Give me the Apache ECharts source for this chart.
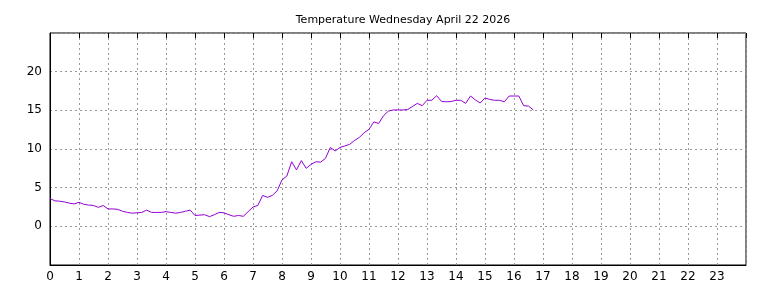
<!DOCTYPE html>
<html>
<head>
<meta charset="utf-8">
<script src="https://cdn.jsdelivr.net/npm/echarts@6/dist/echarts.min.js"></script>
<style>
  html, body { margin: 0; padding: 0; background: #fff; }
  #chart { width: 768px; height: 288px; }
</style>
</head>
<body>
<div id="chart"></div>
<script>
// temperature readings, one every 10 minutes from midnight
const stepMinutes = 10;
const temps = [
    3.6, 3.3, 3.25, 3.15, 3.0, 2.9, 3.1, 2.85, 2.75, 2.7, 2.45, 2.7,
    2.25, 2.25, 2.2, 1.95, 1.8, 1.7, 1.75, 1.8, 2.1, 1.8, 1.8, 1.8,
    1.9, 1.8, 1.7, 1.8, 1.95, 2.1, 1.4, 1.45, 1.5, 1.25, 1.5, 1.8,
    1.75, 1.5, 1.3, 1.4, 1.3, 1.9, 2.5, 2.7, 4.0, 3.75, 4.0, 4.6,
    6.0, 6.5, 8.35, 7.3, 8.5, 7.5, 8.0, 8.35, 8.3, 8.8, 10.2, 9.75,
    10.2, 10.4, 10.6, 11.1, 11.5, 12.1, 12.55, 13.5, 13.3, 14.3, 14.9, 15.05,
    15.05, 15.05, 15.1, 15.5, 15.9, 15.6, 16.3, 16.3, 16.9, 16.15, 16.1, 16.15,
    16.3, 16.3, 15.9, 16.85, 16.35, 15.95, 16.6, 16.4, 16.3, 16.3, 16.1, 16.85,
    16.85, 16.85, 15.6, 15.55, 15.05
];
const hourTicks = [0, 1, 2, 3, 4, 5, 6, 7, 8, 9, 10, 11, 12, 13, 14, 15, 16, 17, 18, 19, 20, 21, 22, 23];
const tempTicks = [0, 5, 10, 15, 20];
const title = "Temperature Wednesday April 22 2026";

const points = temps.map((t, i) => [i * stepMinutes / 60, t]);

const font = "DejaVu Sans";
const gridLine = { show: true, lineStyle: { color: "#999", type: [2, 3], width: 1 } };

const chart = echarts.init(document.getElementById("chart"));
chart.setOption({
    animation: false,
    backgroundColor: "#fff",
    title: {
        text: title,
        left: 398,
        textAlign: "center",
        top: 10,
        textStyle: { fontFamily: font, fontSize: 11, fontWeight: "normal", color: "#000" }
    },
    grid: {
        left: 50, right: 22, top: 33, bottom: 23,
        show: true, borderColor: "#000", borderWidth: 1
    },
    xAxis: [{
        type: "value", min: 0, max: 24, interval: 1,
        axisLine: { show: true, onZero: false, lineStyle: { color: "#000" } },
        axisTick: { show: false },
        axisLabel: {
            fontFamily: font, fontSize: 12, color: "#000", margin: 6,
            formatter: (v) => hourTicks.includes(v) ? String(v) : ""
        },
        splitLine: gridLine
    }, {
        type: "value", position: "top", min: 0, max: 24, interval: 1,
        axisLine: { show: false, onZero: false },
        axisTick: { show: true, inside: true, length: 5, lineStyle: { color: "#000" } },
        axisLabel: { show: false },
        splitLine: { show: false }
    }],
    yAxis: [{
        type: "value", min: -5, max: 25, interval: 5,
        axisLine: { show: true, onZero: false, lineStyle: { color: "#000" } },
        axisTick: { show: false },
        axisLabel: {
            fontFamily: font, fontSize: 12, color: "#000", margin: 8,
            formatter: (v) => tempTicks.includes(v) ? String(v) : ""
        },
        splitLine: gridLine
    }],
    series: [{
        type: "line",
        data: points,
        showSymbol: false,
        lineStyle: { color: "#9400d3", width: 1 },
        itemStyle: { color: "#9400d3" }
    }]
});
</script>
</body>
</html>
